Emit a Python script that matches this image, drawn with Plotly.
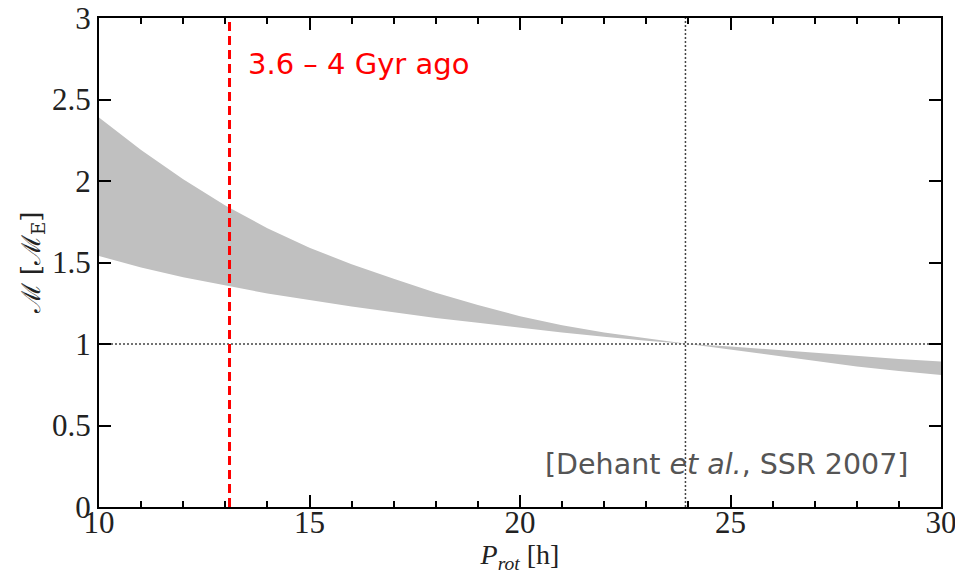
import plotly.graph_objects as go

# Data
p_rot = [10, 11, 12, 13, 14, 15, 16, 17, 18, 19, 20, 21, 22, 23, 24, 25, 26, 27, 28, 29, 30]
m_upper = [2.39, 2.19, 2.01, 1.85, 1.71, 1.59, 1.49, 1.40, 1.315, 1.24, 1.17, 1.115, 1.07, 1.033, 1.0,
           0.985, 0.965, 0.945, 0.925, 0.908, 0.893]
m_lower = [1.54, 1.47, 1.41, 1.36, 1.31, 1.27, 1.23, 1.195, 1.16, 1.13, 1.10, 1.07, 1.045, 1.02, 1.0,
           0.965, 0.93, 0.895, 0.862, 0.835, 0.81]
epoch_p = 13.1          # rotation period 3.6-4 Gyr ago
present_p = 23.93       # present-day rotation period
ref_m = 1.0
x_ticks = [10, 15, 20, 25, 30]
y_ticks = [0, 0.5, 1, 1.5, 2, 2.5, 3]
y_ticktext = ["0", "0.5", "1", "1.5", "2", "2.5", "3"]

fig = go.Figure()
fig.add_trace(go.Scatter(x=p_rot, y=m_lower, mode="lines", line=dict(width=0),
                         showlegend=False, hoverinfo="skip"))
fig.add_trace(go.Scatter(x=p_rot, y=m_upper, mode="lines", line=dict(width=0),
                         fill="tonexty", fillcolor="#c0c0c0", showlegend=False, hoverinfo="skip"))
# reference dotted lines
fig.add_trace(go.Scatter(x=[10, 30], y=[ref_m, ref_m], mode="lines",
                         line=dict(color="#444444", width=1.5, dash="2px,2px"), showlegend=False))
fig.add_trace(go.Scatter(x=[present_p, present_p], y=[0, 3], mode="lines",
                         line=dict(color="#444444", width=1.5, dash="2px,2px"), showlegend=False))
# red dashed epoch line
fig.add_trace(go.Scatter(x=[epoch_p, epoch_p], y=[0, 3], mode="lines",
                         line=dict(color="#ff0000", width=3, dash="9px,5px"), showlegend=False))

axis_common = dict(showline=True, linecolor="black", linewidth=2, mirror="allticks",
                   ticks="inside", ticklen=12, tickwidth=2, tickcolor="black",
                   showgrid=False, zeroline=False, automargin=False, ticklabeloverflow="allow",
                   tickfont=dict(family="Liberation Serif", size=31, color="#222"))
fig.update_xaxes(range=[10, 30], tickvals=x_ticks, ticklabelstandoff=-13,
                 minor=dict(dtick=1, ticks="inside", ticklen=6, tickwidth=2, tickcolor="black"),
                 title=dict(text="<i>P<sub>rot</sub></i> [h]", standoff=0,
                            font=dict(family="Liberation Serif", size=28, color="#222")),
                 **axis_common)
fig.update_yaxes(range=[0, 3], tickvals=y_ticks, ticktext=y_ticktext,
                 title=dict(text="ℳ [ℳ<sub>E</sub>]", standoff=4,
                            font=dict(family="DejaVu Serif", size=26, color="#222")),
                 **axis_common)

fig.add_annotation(x=epoch_p, y=2.72, xref="x", yref="y", xanchor="left", xshift=16,
                   text="3.6 – 4 Gyr ago", showarrow=False,
                   font=dict(family="DejaVu Sans", size=29, color="#ff0000"))
fig.add_annotation(x=29.27, y=0.26, xref="x", yref="y", xanchor="right",
                   text="[Dehant <i>et al.</i>, SSR 2007]", showarrow=False,
                   font=dict(family="DejaVu Sans", size=28.5, color="#555555"))

# page body has an 8px margin, so the figure is sized/margined to land where the reference is
fig.update_layout(width=955, height=566, margin=dict(l=91, r=22, t=10, b=67),
                  plot_bgcolor="white", paper_bgcolor="white", showlegend=False)
fig.write_html("out.html")
